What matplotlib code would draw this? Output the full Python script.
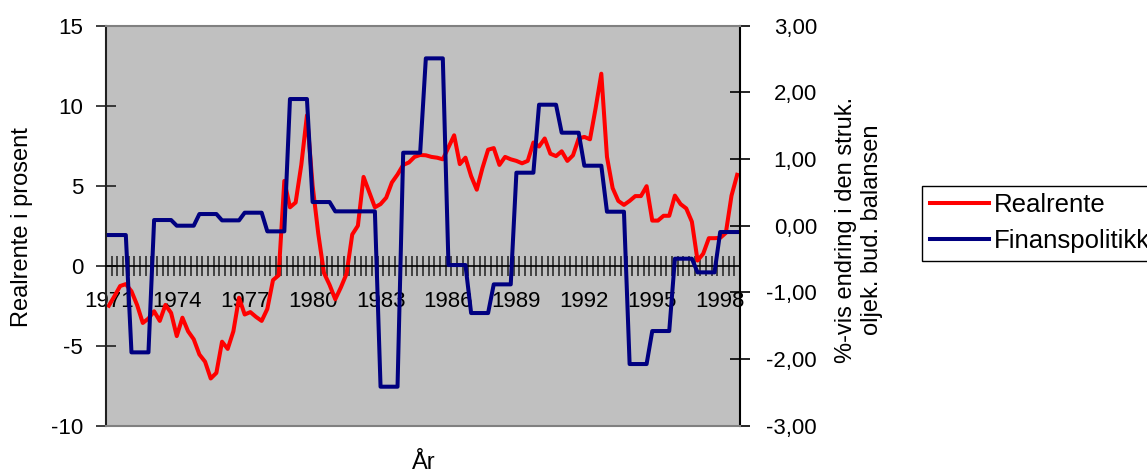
import numpy as np
import matplotlib
matplotlib.use("Agg")
import matplotlib.pyplot as plt

plt.rcParams['font.family'] = ['Liberation Sans', 'DejaVu Sans']
plt.rcParams['axes.unicode_minus'] = False

# Years on the category axis (quarterly observations, 1971Q1-1998Q4)
years = list(range(1971, 1999))

# Real interest rate, per cent (quarterly)
realrente = [
    -2.5, -1.9, -1.27, -1.15,     # 1971
    -1.6, -2.46, -3.58, -3.3,     # 1972
    -2.85, -3.45, -2.45, -2.95,   # 1973
    -4.4, -3.25, -4.1, -4.6,      # 1974
    -5.55, -6.0, -7.05, -6.7,     # 1975
    -4.75, -5.2, -4.1, -2.0,      # 1976
    -3.05, -2.9, -3.2, -3.45,     # 1977
    -2.7, -0.9, -0.6, 5.3,        # 1978
    3.65, 3.95, 6.3, 9.4,         # 1979
    5.0, 2.0, -0.45, -1.2,        # 1980
    -2.1, -1.35, -0.5, 1.95,      # 1981
    2.5, 5.55, 4.6, 3.65,         # 1982
    3.85, 4.25, 5.2, 5.7,         # 1983
    6.3, 6.45, 6.8, 6.92,         # 1984
    6.9, 6.8, 6.75, 6.65,         # 1985
    7.4, 8.15, 6.35, 6.75,        # 1986
    5.6, 4.75, 6.1, 7.25,         # 1987
    7.35, 6.3, 6.8, 6.65,         # 1988
    6.55, 6.4, 6.55, 7.7,         # 1989
    7.45, 7.95, 7.0, 6.85,        # 1990
    7.15, 6.55, 6.9, 7.95,        # 1991
    8.05, 7.9, 9.85, 12.0,        # 1992
    6.8, 4.85, 4.05, 3.8,         # 1993
    4.05, 4.35, 4.35, 4.97,       # 1994
    2.82, 2.82, 3.12, 3.12,       # 1995
    4.38, 3.85, 3.58, 2.75,       # 1996
    0.32, 0.75, 1.72, 1.72,       # 1997
    1.74, 2.05, 4.38, 5.68,       # 1998
]

# Change in the structural non-oil budget balance, per cent (annual)
finanspolitikk = [
    -0.14, -1.90, 0.085, 0.00, 0.175, 0.08, 0.195,
    -0.085, 1.90, 0.355, 0.215, 0.215, -2.415, 1.095,
    2.51, -0.59, -1.31, -0.88, 0.795, 1.815, 1.395,
    0.90, 0.21, -2.075, -1.58, -0.495, -0.70, -0.095,
]

quarters_per_year = 4
fin_quarterly = np.repeat(finanspolitikk, quarters_per_year)
x = np.arange(len(realrente))

W, H = 1147, 472
fig = plt.figure(figsize=(W / 100, H / 100), dpi=100)
left, right, top, bottom = 106, 740, 25.7, 425.7
ax = fig.add_axes([left / W, 1 - bottom / H, (right - left) / W, (bottom - top) / H])
ax.set_facecolor('#C0C0C0')

red_line, = ax.plot(x, realrente, color='#FF0000', lw=2.9, label='Realrente')
ax.set_xlim(-0.5, len(realrente) - 0.5)
ax.set_ylim(-10, 15)

ax2 = ax.twinx()
blue_line, = ax2.plot(x, fin_quarterly, color='#000080', lw=2.9, label='Finanspolitikk')
ax2.set_ylim(-3, 3)

# Plot-area border and axis lines
for sp in ('top', 'right'):
    ax.spines[sp].set_visible(False)
ax.spines['left'].set_color('#202020')
ax.spines['left'].set_linewidth(1.5)
ax.spines['bottom'].set_position(('data', 0))
ax.spines['bottom'].set_color('black')
ax.spines['bottom'].set_linewidth(1.2)

ax2.spines['left'].set_visible(False)
ax2.spines['top'].set_color('#808080')
ax2.spines['top'].set_linewidth(1.5)
ax2.spines['bottom'].set_color('#808080')
ax2.spines['bottom'].set_linewidth(1.5)
ax2.spines['right'].set_color('black')
ax2.spines['right'].set_linewidth(1.5)

# Category axis: tick marks between every quarter, year labels every third year
ax.set_xticks(np.arange(0, len(realrente), 12))
ax.set_xticklabels([str(y) for y in years[::3]])
ax.set_xticks(np.arange(-0.5, len(realrente), 1), minor=True)
ax.tick_params(axis='x', which='major', length=0, pad=18.5, labelsize=16)
ax.tick_params(axis='x', which='minor', direction='inout', length=15, width=1.1, color='#202020')

ax.set_yticks([-10, -5, 0, 5, 10, 15])
ax.tick_params(axis='y', direction='inout', length=15, width=1.2, color='#202020',
               labelsize=16, pad=9)

ax2_ticks = [-3, -2, -1, 0, 1, 2, 3]
ax2.set_yticks(ax2_ticks)
ax2.set_yticklabels([f"{v:.2f}".replace('.', ',') for v in ax2_ticks])
ax2.tick_params(axis='y', direction='inout', length=15, width=1.2, color='black',
                labelsize=16, pad=48)
for lab in ax2.get_yticklabels():
    lab.set_horizontalalignment('right')

fig.text(22 / W, 1 - 227 / H, 'Realrente i prosent', rotation=90,
         ha='center', va='center', fontsize=17)
fig.text(859 / W, 1 - 230 / H, '%-vis endring i den struk.\noljek. bud. balansen',
         rotation=90, ha='center', va='center', fontsize=17, linespacing=1.2)
fig.text(424 / W, 1 - 463 / H, 'År', ha='center', va='center', fontsize=17)

leg = fig.legend(handles=[red_line, blue_line], loc='upper left',
                 bbox_to_anchor=(922 / W, 1 - 185.7 / H), borderaxespad=0,
                 fontsize=18.5, frameon=True, fancybox=False, framealpha=1,
                 edgecolor='black', handlelength=2.3, handletextpad=0.2,
                 borderpad=0.3, labelspacing=0.45)
leg.get_frame().set_linewidth(1.0)

fig.savefig('out.png', dpi=100)
